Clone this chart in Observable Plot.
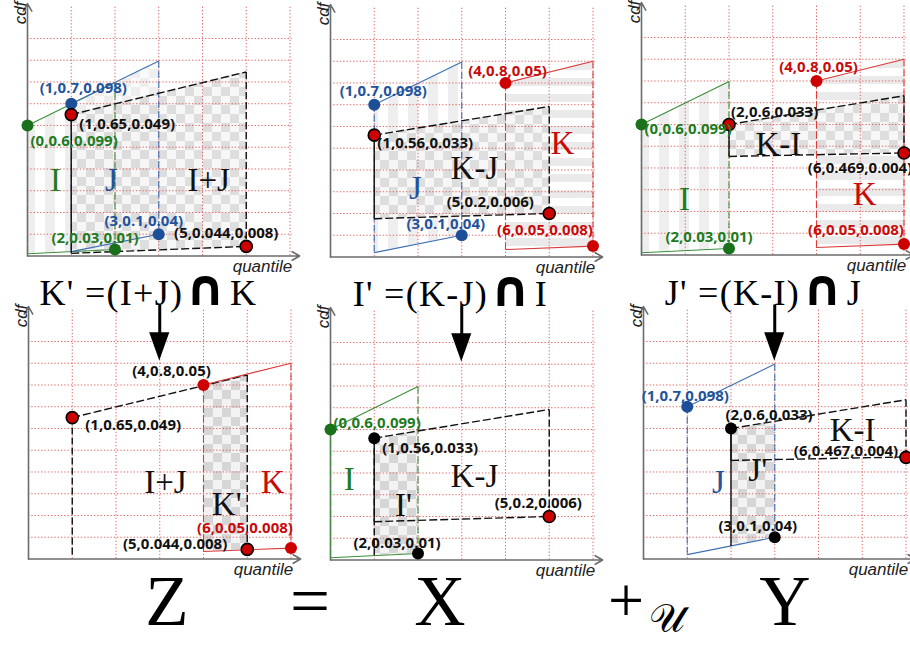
<!DOCTYPE html>
<html>
<head>
<meta charset="utf-8">
<script src="https://cdn.jsdelivr.net/npm/d3@7"></script>
<script src="https://cdn.jsdelivr.net/npm/@observablehq/plot@0.6"></script>
<style>
  html, body { margin:0; padding:0; background:#fff; }
  #root { position:relative; width:910px; height:646px; overflow:hidden; background:#fff; }
  #root svg { position:absolute; overflow:visible; background:transparent; }
</style>
</head>
<body>
<div id="root"></div>
<script>
// ================= DATA =================
// distributions: quantile range, upper anchor point (quantile, cdf, slope), lower anchor point
const distNames = ["I", "J", "I+J", "K", "K-J", "K-I"];
const qFrom = [0, 1, 1, 4, 1, 2];
const qTo   = [2, 3, 5, 6, 5, 6];
const upperPt = [[0,0.6,0.099],[1,0.7,0.098],[1,0.65,0.049],[4,0.8,0.05],[1,0.56,0.033],[2,0.6,0.033]];
const lowerPt = [[2,0.03,0.01],[3,0.1,0.04],[5,0.044,0.008],[6,0.05,0.008],[5,0.2,0.006],[6,0.469,0.004]];

// panel contents
const panelShapes = [["I","J","I+J"],["J","K","K-J"],["I","K","K-I"],["I+J","K"],["I","K-J"],["J","K-I"]];
const panelIntersect = [null, null, null, ["K'",4,5,"K","I+J"], ["I'",1,2,"I","K-J"], ["J'",2,3,"J","K-I"]];
const panelTitles = ["", "", "", "K' =(I+J)∩K", "I' =(K-J)∩I", "J' =(K-I)∩J"];
// labelled points: quantile, cdf, slope, kind
const panelPoints = [
  [[0,0.6,0.099,"I"],[1,0.7,0.098,"J"],[1,0.65,0.049,"KB"],[2,0.03,0.01,"I"],[3,0.1,0.04,"J"],[5,0.044,0.008,"KB"]],
  [[1,0.7,0.098,"J"],[1,0.56,0.033,"KB"],[4,0.8,0.05,"K"],[5,0.2,0.006,"KB"],[3,0.1,0.04,"J"],[6,0.05,0.008,"K"]],
  [[0,0.6,0.099,"I"],[2,0.6,0.033,"KB"],[4,0.8,0.05,"K"],[6,0.469,0.004,"KB"],[2,0.03,0.01,"I"],[6,0.05,0.008,"K"]],
  [[4,0.8,0.05,"KR"],[1,0.65,0.049,"KB"],[6,0.05,0.008,"K"],[5,0.044,0.008,"KB"]],
  [[0,0.6,0.099,"I"],[1,0.56,0.033,"B"],[2,0.03,0.01,"B"],[5,0.2,0.006,"KB"]],
  [[1,0.7,0.098,"J"],[2,0.6,0.033,"B"],[6,0.467,0.004,"KB"],[3,0.1,0.04,"B"]]
];
const regionNames = [["I","J","I+J"],["J","K-J","K"],["I","K-I","K"],["I+J","K'","K"],["I","I'","K-J"],["J","J'","K-I"]];
const gridQ = [1, 2, 3, 4, 5, 6];
const gridP = [0.1, 0.2, 0.3, 0.4, 0.5, 0.6, 0.7, 0.8, 0.9, 1.0];
const eqTokens = ["Z", "=", "X", "+", "𝒰", "Y"];

// ================= LAYOUT & STYLE =================
const UX = 43.75, UY = 217.5, XMAX = 6.3, YMAX = 1.17, ML = 22, MR = 14, MB = 24;
const panelOrigins = [[27,255],[330,256],[641,254],[28,558],[330,559],[643,558]];
const panelTop = [4, 4, 4, 40, 40, 40];
const fillKinds = [["vstripe","checkerLight","checker"],["vstripe","hstripe","checker"],["vstripe","hstripe","checker"],[null,null],[null,null],[null,null]];
const hiddenEdges = [{}, {}, {}, {"I+J":["bottom"]}, {}, {}];
const dashedLeft = [{}, {}, {}, {"I+J":true}, {}, {}];
const interLeftEdge = [null, null, null, null, "dash", "solid"];
const labelOffsets = [
  [[3,16,"start"],[12,-16,"middle"],[8,10,"start"],[-20,-11,"middle"],[-15,-13,"middle"],[-20,-13,"middle"]],
  [[9,-14,"middle"],[3,8,"start"],[2,-12,"middle"],[-59,-11,"middle"],[-16,-11,"middle"],[-48,-16,"middle"]],
  [[3,5,"start"],[2,-12,"start"],[2,-14,"middle"],[-44,15,"middle"],[-20,-11,"middle"],[-48,-14,"middle"]],
  [[-32,-14,"middle"],[13,8,"start"],[-46,-20,"middle"],[-20,-5,"end"]],
  [[3,-6,"start"],[8,10,"start"],[-21,-10,"middle"],[-11,-13,"middle"]],
  [[-2,-11,"middle"],[38,-13,"middle"],[-60,-6,"middle"],[-17,-11,"middle"]]
];
const regionPos = [
  [[0.64,0.345],[1.92,0.345],[4.14,0.345]],
  [[1.94,0.313],[3.29,0.405],[5.30,0.524]],
  [[0.98,0.257],[3.13,0.51],[5.10,0.28]],
  [[3.13,0.354],[4.53,0.252],[5.58,0.354]],
  [[0.43,0.368],[1.67,0.253],[3.29,0.382]],
  [[1.71,0.354],[2.61,0.405],[4.78,0.59]]
];
// [centre x, baseline y, font size]
const eqLayout = [[167,625,71],[310,625,71],[440,625,71],[626,622,64],[667,632,40],[785,625,71]];

const TXT = {I:"#1e7b1e", J:"#23539c", K:"#c80a0a", B:"#111"};
const LINE = {I:"#3a8f3a", J:"#3f6fb4", K:"#db3b3b", B:"#111"};
const DOT = {I:"#1b701b", J:"#1d4f98", K:"#cc0000", B:"#000"};
const fam = n => (n === "I" || n === "J" || n === "K") ? n : "B";

// ================= HELPERS =================
const di = n => distNames.indexOf(n);
const upper = (n, q) => { const [q0, p0, s] = upperPt[di(n)]; return p0 + s * (q - q0); };
const lower = (n, q) => { const [q0, p0, s] = lowerPt[di(n)]; return p0 + s * (q - q0); };
const trap = n => [qFrom[di(n)], qTo[di(n)]].map(q => ({x: q, y1: lower(n, q), y2: upper(n, q)}));

function addPatterns(svg, pid) {
  const defs = d3.select(svg).insert("defs", ":first-child");
  const mk = (id, w, h) => defs.append("pattern").attr("id", `${pid}-${id}`).attr("patternUnits", "userSpaceOnUse").attr("width", w).attr("height", h);
  let p = mk("vstripe", 20, 20);
  p.append("rect").attr("width", 10).attr("height", 20).attr("fill", "#ececec");
  p = mk("hstripe", 20, 16);
  p.append("rect").attr("width", 20).attr("height", 8).attr("fill", "#e8e8e8");
  const checker = (id, bg, fg) => {
    const c = mk(id, 18, 18);
    c.append("rect").attr("width", 18).attr("height", 18).attr("fill", bg);
    c.append("rect").attr("width", 9).attr("height", 9).attr("fill", fg);
    c.append("rect").attr("x", 9).attr("y", 9).attr("width", 9).attr("height", 9).attr("fill", fg);
  };
  checker("checker", "#f6f6f6", "#dadada");
  checker("checkerLight", "#fafafa", "#ececec");
  checker("checkerDark", "#f3f3f3", "#d6d6d6");
}

const root = document.getElementById("root");

panelOrigins.forEach(([ox, oy], k) => {
  const mT = panelTop[k];
  const W = ML + XMAX * UX + MR, H = mT + YMAX * UY + MB;
  const pid = `p${k}`;
  const marks = [];

  // fills
  panelShapes[k].forEach((n, j) => {
    const f = fillKinds[k][j];
    if (f) marks.push(Plot.areaY(trap(n), {x: "x", y1: "y1", y2: "y2", fill: `url(#${pid}-${f})`, fillOpacity: 0.9}));
  });
  const inter = panelIntersect[k];
  if (inter) {
    const [, a, b, lo, up] = inter;
    marks.push(Plot.areaY([a, b].map(q => ({x: q, y1: lower(lo, q), y2: upper(up, q)})), {x: "x", y1: "y1", y2: "y2", fill: `url(#${pid}-checkerDark)`}));
  }

  // grid
  marks.push(Plot.ruleX(gridQ, {x: d => d, y1: 0, y2: 1.15, stroke: "#e06262", strokeWidth: 1, strokeDasharray: "1.3,2"}));
  marks.push(Plot.ruleY(gridP, {y: d => d, x1: 0, x2: 6.05, stroke: "#e06262", strokeWidth: 1, strokeDasharray: "1.3,2"}));

  // axes
  marks.push(Plot.arrow([{x1: 0, y1: 0, x2: 6.22, y2: 0}, {x1: 0, y1: 0, x2: 0, y2: 1.16}],
    {x1: "x1", y1: "y1", x2: "x2", y2: "y2", stroke: "#6c6c6c", strokeWidth: 1.6, headLength: 8}));
  marks.push(Plot.text(["quantile"], {x: 6.05, y: 0, dy: 11, text: d => d, textAnchor: "end", fontStyle: "italic", fontSize: 17, fontFamily: "Liberation Sans", fill: "#222"}));
  marks.push(Plot.text(["cdf"], {x: 0, y: YMAX, dx: -7, text: d => d, rotate: -90, textAnchor: "end", fontStyle: "italic", fontSize: 17, fontFamily: "Liberation Sans", fill: "#222"}));

  // outlines
  panelShapes[k].forEach(n => {
    const i = di(n), q0 = qFrom[i], q1 = qTo[i], f = fam(n);
    const t0 = upper(n, q0), t1 = upper(n, q1), b0 = lower(n, q0), b1 = lower(n, q1);
    const edges = {
      top: [q0, t0, q1, t1], bottom: [q0, b0, q1, b1], left: [q0, t0, q0, b0], right: [q1, t1, q1, b1]
    };
    const style = f === "B"
      ? {top: "8,3", bottom: "8,3", left: dashedLeft[k][n] ? "7,3" : null, right: "7,3"}
      : {top: null, bottom: null, left: "7,3", right: "7,3"};
    const hide = hiddenEdges[k][n] || [];
    for (const e of ["top", "bottom", "left", "right"]) {
      if (hide.includes(e)) continue;
      const [x1, y1, x2, y2] = edges[e];
      marks.push(Plot.link([{x1, y1, x2, y2}], {x1: "x1", y1: "y1", x2: "x2", y2: "y2",
        stroke: LINE[f], strokeWidth: f === "B" ? 1.4 : 1.1, strokeDasharray: style[e] || undefined}));
    }
  });
  if (inter && interLeftEdge[k]) {
    const [, a, , lo, up] = inter;
    marks.push(Plot.link([{x1: a, y1: upper(up, a), x2: a, y2: lower(lo, a)}], {x1: "x1", y1: "y1", x2: "x2", y2: "y2",
      stroke: "#111", strokeWidth: 1.4, strokeDasharray: interLeftEdge[k] === "dash" ? "7,3" : undefined}));
  }

  // region names
  regionNames[k].forEach((name, j) => {
    const [x, y] = regionPos[k][j];
    const f = (name === "I" || name === "J" || name === "K") ? name : "B";
    marks.push(Plot.text([name], {x, y, text: d => d, fontFamily: "Liberation Serif", fontSize: 33, fill: TXT[f]}));
  });

  // points + labels
  const pts = panelPoints[k];
  pts.forEach(d => {
    const kind = d[3];
    const fill = kind === "KB" || kind === "KR" ? DOT.K : DOT[kind];
    const stroke = kind === "KB" ? "#000" : "none";
    marks.push(Plot.dot([d], {x: d => d[0], y: d => d[1], r: 6, fill, stroke, strokeWidth: 1.6}));
  });
  pts.forEach((d, j) => {
    const kind = d[3];
    const col = (kind === "I" || kind === "J" || kind === "K") ? TXT[kind] : TXT.B;
    const [dx, dy, anchor] = labelOffsets[k][j];
    marks.push(Plot.text([d], {x: d => d[0], y: d => d[1], text: d => `(${d[0]},${d[1]},${d[2]})`, dx, dy,
      textAnchor: anchor, fill: col, fontWeight: "bold", fontSize: 15, fontFamily: "Open Sans"}));
  });

  // title formula + big arrow
  if (panelTitles[k]) {
    marks.push(Plot.text([panelTitles[k]], {x: 2.74, y: 1.22, text: d => d, fontFamily: "Liberation Serif", fontSize: 36, fill: "#000"}));
    marks.push(Plot.link([{x1: 3, y1: 1.17, x2: 3, y2: 1.03}], {x1: "x1", y1: "y1", x2: "x2", y2: "y2", stroke: "#000", strokeWidth: 3}));
    marks.push(Plot.areaX([{y: 0.91, x1: 3, x2: 3}, {y: 1.04, x1: 2.77, x2: 3.23}], {y: "y", x1: "x1", x2: "x2", fill: "#000"}));
  }

  const svg = Plot.plot({
    width: W, height: H, marginLeft: ML, marginRight: MR, marginTop: mT, marginBottom: MB,
    x: {domain: [0, XMAX], axis: null},
    y: {domain: [0, YMAX], axis: null},
    color: {type: "identity"},
    style: {background: "transparent", overflow: "visible"},
    marks
  });
  addPatterns(svg, pid);
  // formula: wider spacing and a heavier, taller intersection sign
  d3.select(svg).selectAll("text").filter(function() { return this.textContent.includes("∩"); }).each(function() {
    const el = d3.select(this);
    const parts = this.textContent.split("∩");
    el.text(null).attr("letter-spacing", 1.3);
    el.append("tspan").text(parts[0]);
    el.append("tspan").attr("font-family", "DejaVu Sans").attr("font-weight", "bold").attr("font-size", 50)
      .attr("letter-spacing", 0).attr("dx", 2).text("∩");
    el.append("tspan").attr("dx", 4).text(parts[1]);
  });
  svg.style.left = (ox - ML) + "px";
  svg.style.top = (oy - mT - YMAX * UY) + "px";
  root.appendChild(svg);
});

// bottom equation  Z = X +_U Y
const eq = d3.select(root).append("svg").attr("width", 910).attr("height", 80)
  .style("left", "0px").style("top", "566px");
eqTokens.forEach((t, i) => {
  const [cx, base, fs] = eqLayout[i];
  eq.append("text")
    .attr("x", cx).attr("y", base - 566)
    .attr("text-anchor", "middle")
    .attr("font-family", i === 4 ? "DejaVu Serif, DejaVu Sans, serif" : "Liberation Serif, serif")
    .attr("font-size", fs)
    .attr("fill", "#000")
    .text(t);
});
</script>
</body>
</html>
